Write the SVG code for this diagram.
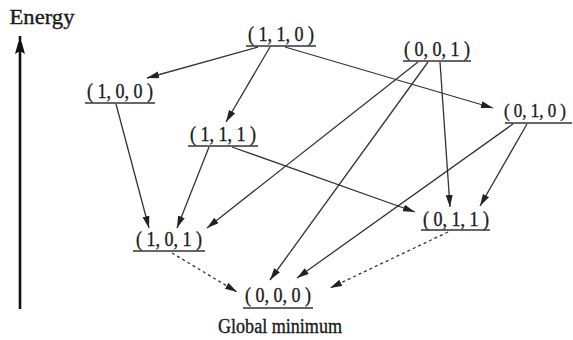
<svg xmlns="http://www.w3.org/2000/svg" width="573" height="340" viewBox="0 0 573 340">
<defs>
<marker id="ah" markerUnits="userSpaceOnUse" markerWidth="13" markerHeight="8" refX="12" refY="3.5" orient="auto">
<path d="M0,0 L12,3.5 L0,7 z" fill="#222"/>
</marker>
<marker id="big" markerUnits="userSpaceOnUse" markerWidth="12" markerHeight="20" refX="18" refY="5" orient="auto">
<path d="M0,0 L18,5 L0,10 L3,5 z" fill="#111"/>
</marker>
</defs>
<style>
.t{font-family:"Liberation Serif","Times New Roman",serif;font-size:20px;fill:#1a1a1a;stroke:#1a1a1a;stroke-width:0.35;text-anchor:middle}
.u{stroke:#333;stroke-width:1.3}
.e{stroke:#333;stroke-width:1.3;fill:none;marker-end:url(#ah)}
.d{stroke-dasharray:3,3}
</style>
<rect width="573" height="340" fill="#fff"/>
<g id="axis">
<line x1="20" y1="309" x2="20" y2="36" stroke="#111" stroke-width="2.6" marker-end="url(#big)"/>
<text x="42" y="24" class="t" textLength="65" lengthAdjust="spacingAndGlyphs">Energy</text>
</g>
<g id="connectors">
<line class="e" x1="258" y1="47" x2="147" y2="78"/>
<line class="e" x1="270" y1="47" x2="226" y2="122"/>
<line class="e" x1="285" y1="47" x2="493" y2="108"/>
<line class="e" x1="418" y1="62" x2="207" y2="228"/>
<line class="e" x1="428" y1="62" x2="270" y2="280"/>
<line class="e" x1="440" y1="62" x2="450" y2="207"/>
<line class="e" x1="116" y1="104" x2="149" y2="228"/>
<line class="e" x1="209" y1="147" x2="177" y2="228"/>
<line class="e" x1="232" y1="147" x2="415" y2="212"/>
<line class="e" x1="513" y1="124" x2="297" y2="278"/>
<line class="e" x1="527" y1="124" x2="480" y2="206"/>
<line class="e d" x1="172" y1="253" x2="237" y2="292"/>
<line class="e d" x1="448" y1="232" x2="330" y2="288"/>
</g>
<g id="n110"><text x="281" y="41" class="t" textLength="66" lengthAdjust="spacingAndGlyphs">( 1, 1, 0 )</text><line class="u" x1="246" y1="46" x2="316" y2="46"/></g>
<g id="n100"><text x="120" y="98" class="t" textLength="66" lengthAdjust="spacingAndGlyphs">( 1, 0, 0 )</text><line class="u" x1="85" y1="103" x2="155" y2="103"/></g>
<g id="n001"><text x="437" y="56" class="t" textLength="66" lengthAdjust="spacingAndGlyphs">( 0, 0, 1 )</text><line class="u" x1="403" y1="61" x2="471" y2="61"/></g>
<g id="n010"><text x="535" y="117" class="t" style="font-size:18.5px" textLength="62" lengthAdjust="spacingAndGlyphs">( 0, 1, 0 )</text><line class="u" x1="505" y1="123" x2="572" y2="123"/></g>
<g id="n111"><text x="223" y="141" class="t" textLength="66" lengthAdjust="spacingAndGlyphs">( 1, 1, 1 )</text><line class="u" x1="188" y1="146" x2="258" y2="146"/></g>
<g id="n101"><text x="169" y="246" class="t" textLength="66" lengthAdjust="spacingAndGlyphs">( 1, 0, 1 )</text><line class="u" x1="133" y1="251" x2="205" y2="251"/></g>
<g id="n011"><text x="456" y="226" class="t" textLength="66" lengthAdjust="spacingAndGlyphs">( 0, 1, 1 )</text><line class="u" x1="421" y1="230" x2="490" y2="230"/></g>
<g id="n000"><text x="278" y="302" class="t" textLength="66" lengthAdjust="spacingAndGlyphs">( 0, 0, 0 )</text><line class="u" x1="243" y1="308" x2="313" y2="308"/></g>
<g id="label"><text x="280" y="333" class="t" textLength="124" lengthAdjust="spacingAndGlyphs">Global minimum</text></g>
</svg>
